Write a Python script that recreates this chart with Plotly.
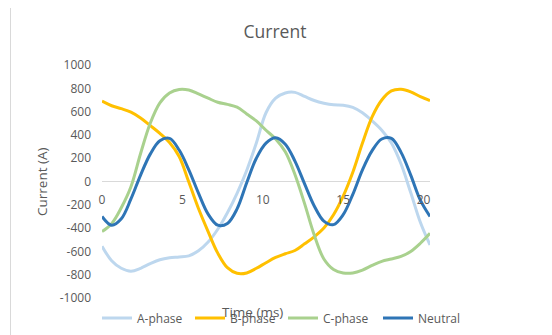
import plotly.graph_objects as go

# Time axis (ms)
time_ms = [0, 0.6, 1.2, 1.8, 2.4, 3.0, 3.6, 4.2, 4.8, 5.4, 6.0, 6.6, 7.2, 7.8, 8.4,
           9.0, 9.6, 10.2, 10.8, 11.4, 12.0, 12.6, 13.2, 13.8, 14.4, 15.0, 15.6,
           16.2, 16.8, 17.4, 18.0, 18.6, 19.2, 19.8, 20.4]

a_phase = [-555, -680, -745, -770, -745, -705, -672, -655, -648, -638, -595, -520,
           -410, -268, -101, 95, 330, 590, 715, 760, 765, 730, 695, 672, 658, 655,
           637, 590, 520, 440, 330, 150, -95, -350, -545]

b_phase = [690, 650, 625, 595, 545, 480, 413, 335, 215, -5, -232, -430, -615, -740,
           -788, -785, -745, -697, -652, -620, -592, -535, -475, -400, -285, -125,
           80, 330, 555, 700, 778, 792, 770, 728, 695]

c_phase = [-430, -362, -225, -45, 240, 500, 675, 760, 790, 785, 752, 715, 680, 662,
           638, 580, 520, 440, 365, 255, 60, -190, -460, -665, -755, -785, -785,
           -760, -720, -685, -665, -643, -600, -530, -445]

neutral = [-300, -375, -320, -150, 55, 235, 350, 370, 270, 100, -100, -280, -375,
           -360, -235, -10, 200, 330, 375, 320, 175, -20, -210, -340, -370, -285,
           -110, 100, 265, 365, 370, 250, 55, -160, -300]

series_names = ["A-phase", "B-phase", "C-phase", "Neutral"]
series_colors = ["#BDD7EE", "#FFC000", "#A9D18E", "#2E75B6"]

y_tick_vals = [-1000, -800, -600, -400, -200, 0, 200, 400, 600, 800, 1000]
y_tick_text = ["-1000", "-800", "-600", "-400", "-200", "0", "200", "400", "600", "800", "1000"]
x_tick_vals = [0, 5, 10, 15, 20]
x_tick_text = ["0", "5", "10", "15", "20"]

FONT = "Open Sans"
GREY = "#595959"

W, H = 552, 335
OFF = 8  # the page's default body margin shifts the figure by this many px
# plot area in screen pixels: x 102..430, y 65..298
PX0, PX1, PY0, PY1 = 102, 430, 65, 298
L, T = PX0 - OFF, PY0 - OFF
PW, PH = PX1 - PX0, PY1 - PY0
R, B = W - L - PW, H - T - PH


def px_x(px):
    return (px - PX0) / PW


def px_y(py):
    return (PY1 - py) / PH


def cx(px):
    return (px - OFF) / W


def cy(py):
    return 1 - (py - OFF) / H


legend_ids = ["legend", "legend2", "legend3", "legend4"]
legend_left_px = [97, 190, 283, 378]

fig = go.Figure()
for name, vals, col, lid in zip(series_names, [a_phase, b_phase, c_phase, neutral],
                                series_colors, legend_ids):
    fig.add_trace(go.Scatter(x=time_ms, y=vals, name=name, mode="lines", legend=lid,
                             line=dict(color=col, width=3, shape="spline", smoothing=1)))

legend_layout = {}
for lid, lx in zip(legend_ids, legend_left_px):
    legend_layout[lid] = dict(orientation="h", xref="container", yref="container",
                              x=cx(lx), xanchor="left", y=cy(318), yanchor="middle",
                              font=dict(size=12, color=GREY, family=FONT),
                              bgcolor="rgba(0,0,0,0)", borderwidth=0)

fig.update_layout(
    width=W, height=H,
    margin=dict(l=L, r=R, t=T, b=B, autoexpand=False),
    paper_bgcolor="white", plot_bgcolor="white",
    font=dict(family=FONT, color=GREY, size=12),
    title=dict(text="Current", x=cx(275), xanchor="center", xref="container",
               y=cy(32), yanchor="middle", yref="container",
               font=dict(size=17.5, color=GREY, family=FONT)),
    showlegend=True,
    xaxis=dict(range=[0, 20.4], tickvals=x_tick_vals, ticktext=x_tick_text,
               showgrid=False, zeroline=False, showline=False, ticks="",
               anchor="free", position=0.5, tickfont=dict(size=12, color=GREY),
               ticklabelstandoff=9),
    yaxis=dict(range=[-1000, 1000], tickvals=y_tick_vals, ticktext=y_tick_text,
               showgrid=False, zeroline=True, zerolinecolor="#D9D9D9", zerolinewidth=1,
               showline=False, ticks="", tickfont=dict(size=12, color=GREY),
               ticklabelstandoff=10),
    annotations=[
        dict(text="Current (A)", xref="paper", yref="paper", x=px_x(42), y=px_y(182),
             textangle=-90, showarrow=False, font=dict(size=13.5, color=GREY),
             xanchor="center", yanchor="middle"),
        dict(text="Time (ms)", xref="paper", yref="paper", x=px_x(252), y=px_y(311.5),
             showarrow=False, font=dict(size=13.5, color=GREY),
             xanchor="center", yanchor="middle"),
    ],
    shapes=[
        dict(type="rect", xref="paper", yref="paper", x0=px_x(10.5), x1=px_x(570),
             y0=px_y(350), y1=px_y(5.5), line=dict(color="#D9D9D9", width=1),
             fillcolor="rgba(0,0,0,0)", layer="below"),
        dict(type="line", xref="paper", yref="paper", x0=px_x(550.5), x1=px_x(550.5),
             y0=px_y(130), y1=px_y(273), line=dict(color="#E3E3E3", width=2)),
    ],
    **legend_layout,
)

fig.write_html("out.html")
